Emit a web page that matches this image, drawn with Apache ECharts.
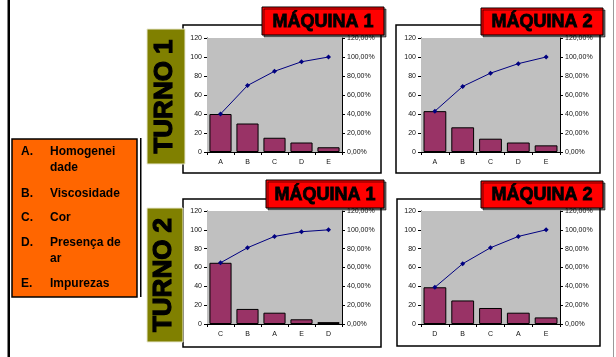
<!DOCTYPE html>
<html>
<head>
<meta charset="utf-8">
<script src="https://cdn.jsdelivr.net/npm/echarts@6/dist/echarts.min.js"></script>
<style>
html,body{margin:0;padding:0;background:#fff;}
#c{width:616px;height:357px;}
</style>
</head>
<body>
<div id="c"></div>
<script>
// ---- data ----
const cats1 = ['A','B','C','D','E'];
const bars1 = [40,30,15,10,5];
const cum1  = [40,70,85,95,100];

const cats2 = ['A','B','C','D','E'];
const bars2 = [43,26,14,10,7];
const cum2  = [43,69,83,93,100];

const cats3 = ['C','B','A','E','D'];
const bars3 = [65,16,12,5,2];
const cum3  = [65,81,93,98,100];

const cats4 = ['D','B','C','A','E'];
const bars4 = [39,25,17,12,7];
const cum4  = [39,64,81,93,100];

const leftTicks = [0,20,40,60,80,100,120];
const titles = ['MÁQUINA 1','MÁQUINA 2','MÁQUINA 1','MÁQUINA 2'];
const turnos = ['TURNO 1','TURNO 2'];
const legendKeys = ['A.','B.','C.','D.','E.'];
const legendLines = [['Homogenei','dade'],['Viscosidade'],['Cor'],['Presença de','ar'],['Impurezas']];

const FONT = 'Liberation Sans, Arial, sans-serif';
const panels = [
  {cats:cats1,bars:bars1,cum:cum1,grid:{left:207,top:38,width:135,height:114}},
  {cats:cats2,bars:bars2,cum:cum2,grid:{left:421,top:38,width:139,height:114}},
  {cats:cats3,bars:bars3,cum:cum3,grid:{left:207,top:211,width:135,height:113}},
  {cats:cats4,bars:bars4,cum:cum4,grid:{left:421,top:211,width:139,height:113}}
];

const grid=[], xAxis=[], yAxis=[], series=[];
panels.forEach((p,i)=>{
  grid.push(Object.assign({show:true,backgroundColor:'#C0C0C0',borderWidth:0,containLabel:false,z:1},p.grid));
  xAxis.push({type:'category',gridIndex:i,data:p.cats,
    axisLine:{lineStyle:{color:'#000',width:1}},
    axisTick:{show:true,length:3,interval:0,lineStyle:{color:'#000'}},
    axisLabel:{fontSize:7,color:'#111',fontFamily:FONT,margin:7}});
  yAxis.push({type:'value',gridIndex:i,min:leftTicks[0],max:leftTicks[leftTicks.length-1],interval:20,
    axisLine:{show:true,lineStyle:{color:'#000',width:1}},
    axisTick:{show:true,length:3,lineStyle:{color:'#000'}},
    splitLine:{show:false},
    axisLabel:{fontSize:7,color:'#111',fontFamily:FONT,margin:5}});
  yAxis.push({type:'value',gridIndex:i,position:'right',min:0,max:120,interval:20,
    axisLine:{show:true,lineStyle:{color:'#000',width:1}},
    axisTick:{show:true,length:3,lineStyle:{color:'#000'}},
    splitLine:{show:false},
    axisLabel:{fontSize:7,color:'#111',fontFamily:FONT,margin:5,
      formatter:v=>v.toFixed(2).replace('.',',')+'%'}});
  series.push({type:'bar',xAxisIndex:i,yAxisIndex:2*i,data:p.bars,barCategoryGap:'18%',
    itemStyle:{color:'#993366',borderColor:'#000',borderWidth:1},z:2});
  series.push({type:'line',xAxisIndex:i,yAxisIndex:2*i+1,data:p.cum,symbol:'diamond',symbolSize:5,
    lineStyle:{color:'#000080',width:1},itemStyle:{color:'#000080'},z:3});
});

const graphic=[];
// page lines
graphic.push({type:'rect',shape:{x:7.5,y:0,width:2.5,height:357},style:{fill:'#000'},z:-5});
graphic.push({type:'rect',shape:{x:613,y:0,width:1,height:357},style:{fill:'#999'},z:-5});
// chart boxes
const boxes=[[183,25,198,148],[396,25,204,148],[183,199,198,148],[397,199,203,147]];
boxes.forEach(b=>graphic.push({type:'rect',shape:{x:b[0],y:b[1],width:b[2],height:b[3]},
  style:{fill:'#fff',stroke:'#000',lineWidth:1.5},z:-5}));
// title labels
const tl=[[262,7,122,28],[481,8,122,27],[266,180,118,28],[481,181,122,27]];
tl.forEach((t,i)=>{
  graphic.push({type:'rect',shape:{x:t[0],y:t[1],width:t[2],height:t[3]},
    style:{fill:'#FF0000',stroke:'#000',lineWidth:1,shadowColor:'rgba(0,0,0,0.55)',shadowOffsetX:2,shadowOffsetY:2,shadowBlur:0},z:50});
  graphic.push({type:'text',x:t[0]+t[2]/2,y:t[1]+t[3]/2+1,
    style:{text:titles[i],fill:'#000',stroke:'#000',lineWidth:0.8,font:'bold 18px '+FONT,align:'center',verticalAlign:'middle',
      textShadowColor:'rgba(90,90,90,0.8)',textShadowOffsetX:1.5,textShadowOffsetY:1.5,textShadowBlur:0},z:51});
});
// TURNO boxes
const tb=[[147,29,38,135],[147,208,36,134]];
tb.forEach((t,i)=>{
  graphic.push({type:'rect',shape:{x:t[0],y:t[1],width:t[2],height:t[3]},
    style:{fill:'#808000',stroke:'#E8E8D0',lineWidth:1},z:40});
  graphic.push({type:'text',x:t[0]+t[2]/2-1,y:t[1]+t[3]/2,rotation:Math.PI/2,
    style:{text:turnos[i],fill:'#000',stroke:'#000',lineWidth:1.2,font:'bold 26px '+FONT,align:'center',verticalAlign:'middle',
      textShadowColor:'rgba(255,255,200,0.35)',textShadowOffsetX:1,textShadowOffsetY:1},z:41});
});
// legend box
graphic.push({type:'rect',shape:{x:140,y:138,width:1.5,height:159},style:{fill:'#000'},z:30});
graphic.push({type:'rect',shape:{x:12,y:139,width:125,height:158},
  style:{fill:'#FF6600',stroke:'#000',lineWidth:1.5},z:30});
const ly=[[152,168],[194],[218],[243,259],[284]];
legendKeys.forEach((k,i)=>{
  graphic.push({type:'text',x:21,y:ly[i][0],style:{text:k,fill:'#000',font:'bold 12px '+FONT,verticalAlign:'middle'},z:31});
  legendLines[i].forEach((s,j)=>{
    graphic.push({type:'text',x:50,y:ly[i][j],style:{text:s,fill:'#000',font:'bold 12px '+FONT,verticalAlign:'middle'},z:31});
  });
});

const chart=echarts.init(document.getElementById('c'),null,{renderer:'canvas'});
chart.setOption({animation:false,backgroundColor:'#fff',grid,xAxis,yAxis,series,graphic});
</script>
</body>
</html>
